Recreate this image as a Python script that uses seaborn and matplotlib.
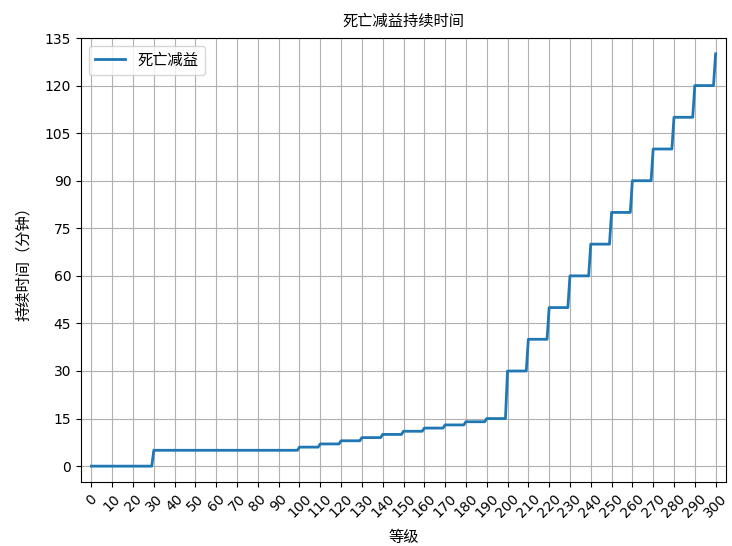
import numpy as np
import pandas as pd
import matplotlib
matplotlib.use("Agg")
import matplotlib.pyplot as plt
import seaborn as sns

# Death debuff duration (minutes): value takes effect from each threshold level onward
threshold_levels = [0, 30, 100, 110, 120, 130, 140, 150, 160, 170, 180, 190,
                    200, 210, 220, 230, 240, 250, 260, 270, 280, 290, 300]
duration_minutes = [0, 5, 6, 7, 8, 9, 10, 11, 12, 13, 14, 15,
                    30, 40, 50, 60, 70, 80, 90, 100, 110, 120, 130]
max_level = 300

x_ticks = list(range(0, 301, 10))
y_ticks = list(range(0, 136, 15))

levels = np.arange(0, max_level + 1)
idx = np.searchsorted(threshold_levels, levels, side="right") - 1
df = pd.DataFrame({"等级": levels,
                   "持续时间": np.asarray(duration_minutes)[idx]})

plt.rcParams["font.family"] = ["DejaVu Sans", "Noto Sans CJK SC"]
plt.rcParams["axes.unicode_minus"] = False

fig = plt.figure(figsize=(7.32, 5.46), dpi=100)
ax = fig.add_axes([81 / 732, 1 - 482 / 546, (726 - 81) / 732, (482 - 38) / 546])

sns.lineplot(data=df, x="等级", y="持续时间", ax=ax, color="#1f77b4",
             linewidth=2, label="死亡减益")

ax.set_xlim(-5, 305)
ax.set_ylim(-5, 135)
ax.set_xticks(x_ticks)
ax.set_xticklabels([str(t) for t in x_ticks], rotation=45, fontsize=10)
ax.set_yticks(y_ticks)
ax.set_yticklabels([str(t) for t in y_ticks], fontsize=10)
ax.grid(True, color="#b0b0b0", linewidth=0.8)
ax.set_axisbelow(True)

cjk = ["Noto Sans CJK SC", "DejaVu Sans"]
ax.set_title("死亡减益持续时间", fontsize=11, family=cjk, pad=9)
ax.set_xlabel("等级", fontsize=11, family=cjk, labelpad=6)
ax.set_ylabel("持续时间（分钟）", fontsize=11, family=cjk, labelpad=9)
ax.legend(loc="upper left", prop={"family": cjk, "size": 11})

fig.savefig("out.png", dpi=100)
